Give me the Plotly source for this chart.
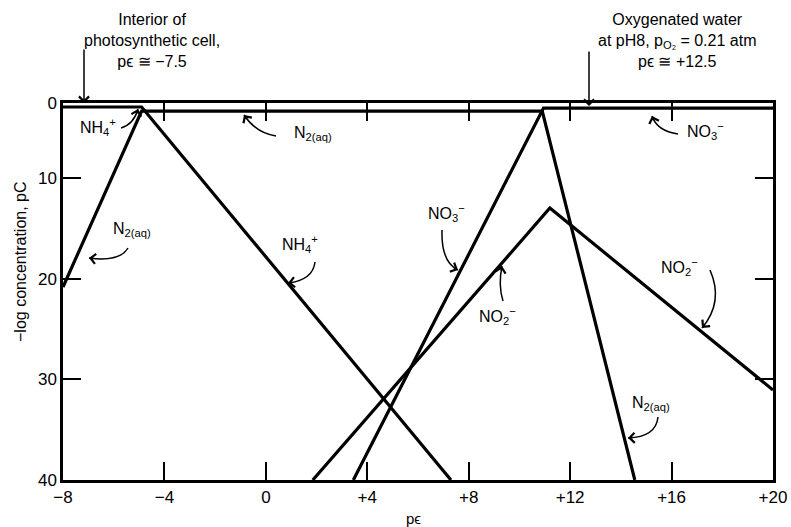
import plotly.graph_objects as go

# ---------------- data ----------------
pe_ticks = [-8, -4, 0, 4, 8, 12, 16, 20]
pe_tick_labels = ["−8", "−4", "0", "+4", "+8", "+12", "+16", "+20"]
pc_ticks = [2.5, 10, 20, 30, 40]
pc_tick_labels = ["0", "10", "20", "30", "40"]

nh4_pe = [-8, -4.9, 7.3]
nh4_pc = [2.9, 2.9, 40]

n2_pe = [-8, -4.9, 10.9, 14.55]
n2_pc = [20.8, 3.3, 3.3, 40]

no3_pe = [3.45, 10.95, 20]
no3_pc = [40, 3.0, 3.0]

no2_pe = [1.85, 11.2, 20]
no2_pc = [40, 12.95, 31.05]

# ---------------- layout geometry ----------------
W, H = 791, 527
L, R, T, B = 63, 773, 103, 480   # plot-area pixel box
FONT = "Liberation Sans, Arial, sans-serif"


def pxp(x):
    return (x - L) / (R - L)


def pyp(y):
    return (B - y) / (B - T)


fig = go.Figure()
for xs, ys, nm in [(nh4_pe, nh4_pc, "NH4+"), (n2_pe, n2_pc, "N2(aq)"),
                   (no3_pe, no3_pc, "NO3-"), (no2_pe, no2_pc, "NO2-")]:
    fig.add_trace(go.Scatter(x=xs, y=ys, mode="lines", name=nm,
                             line=dict(color="black", width=3.2),
                             showlegend=False, cliponaxis=True))

shapes = []
annotations = []

# species labels (pixel centre positions)
labels = [
    ("NH<sub>4</sub><sup>+</sup>", 98, 127),
    ("N<sub>2(aq)</sub>", 313, 133),
    ("NO<sub>3</sub><sup>−</sup>", 705, 131),
    ("N<sub>2(aq)</sub>", 132, 229),
    ("NH<sub>4</sub><sup>+</sup>", 300, 244),
    ("NO<sub>3</sub><sup>−</sup>", 447, 213),
    ("NO<sub>2</sub><sup>−</sup>", 497, 316),
    ("NO<sub>2</sub><sup>−</sup>", 679, 267),
    ("N<sub>2(aq)</sub>", 651, 403),
]
for txt, x, y in labels:
    annotations.append(dict(text=txt, xref="paper", yref="paper",
                            x=pxp(x), y=pyp(y), showarrow=False,
                            xanchor="center", yanchor="middle",
                            font=dict(family=FONT, size=16, color="black")))

# curved pointer arrows: start, control, end (pixels)
curves = [
    ((121, 128), (134, 124), (138, 109)),
    ((276, 136), (256, 133), (244, 115)),
    ((678, 134), (657, 131), (652, 116)),
    ((128, 248), (120, 262), (89, 258)),
    ((315, 262), (313, 280), (288, 283)),
    ((442, 230), (441, 262), (458, 270)),
    ((503, 301), (498, 285), (502, 266)),
    ((710, 270), (724, 302), (702, 328)),
    ((658, 417), (656, 437), (628, 438)),
]
for (sx, sy), (cx, cy), (ex, ey) in curves:
    shapes.append(dict(type="path", xref="paper", yref="paper",
                       path=f"M {pxp(sx)},{pyp(sy)} Q {pxp(cx)},{pyp(cy)} {pxp(ex)},{pyp(ey)}",
                       line=dict(color="black", width=1.5)))
    dx, dy = ex - cx, ey - cy
    n = (dx * dx + dy * dy) ** 0.5
    annotations.append(dict(text="", xref="paper", yref="paper",
                            x=pxp(ex), y=pyp(ey), showarrow=True,
                            ax=-dx / n * 6, ay=-dy / n * 6,
                            arrowhead=4, arrowsize=1.3, arrowwidth=1.5,
                            arrowcolor="black", standoff=0))

# top vertical arrows
for x, y0, y1 in [(84, 48, 103), (589, 50, 106)]:
    annotations.append(dict(text="", xref="paper", yref="paper",
                            x=pxp(x), y=pyp(y1), showarrow=True,
                            ax=0, ay=y0 - y1, arrowhead=4, arrowsize=1.3,
                            arrowwidth=1.5, arrowcolor="black", standoff=0))

# top captions
annotations.append(dict(text="Interior of<br>photosynthetic cell,<br>pϵ ≅ −7.5",
                        xref="paper", yref="paper", x=pxp(152), y=pyp(41),
                        showarrow=False, xanchor="center", yanchor="middle",
                        align="center",
                        font=dict(family=FONT, size=16, color="black")))
annotations.append(dict(text="Oxygenated water<br>at pH8, p<sub>O₂</sub> = 0.21 atm<br>pϵ ≅ +12.5",
                        xref="paper", yref="paper", x=pxp(677), y=pyp(41),
                        showarrow=False, xanchor="center", yanchor="middle",
                        align="center",
                        font=dict(family=FONT, size=16, color="black")))

# axis titles
annotations.append(dict(text="−log concentration, pC", xref="paper", yref="paper",
                        x=pxp(20), y=pyp(262), showarrow=False, textangle=-90,
                        xanchor="center", yanchor="middle",
                        font=dict(family=FONT, size=16, color="black")))
annotations.append(dict(text="pϵ", xref="paper", yref="paper",
                        x=pxp(413), y=pyp(518), showarrow=False,
                        xanchor="center", yanchor="middle",
                        font=dict(family=FONT, size=15, color="black")))

fig.update_layout(
    width=W, height=H,
    margin=dict(l=L, r=W - R, t=T, b=H - B, pad=0, autoexpand=False),
    paper_bgcolor="white", plot_bgcolor="white",
    shapes=shapes, annotations=annotations,
    font=dict(family=FONT, size=16, color="black"),
)
fig.update_xaxes(range=[-8, 20], tickvals=pe_ticks, ticktext=pe_tick_labels,
                 automargin=False,
                 showgrid=False, zeroline=False, showline=True, linewidth=2.5,
                 linecolor="black", mirror="ticks", ticks="inside", ticklen=18,
                 tickwidth=1.5, tickcolor="black",
                 tickfont=dict(family=FONT, size=17, color="black"))
fig.update_yaxes(range=[40, 2.5], tickvals=pc_ticks, ticktext=pc_tick_labels,
                 automargin=False,
                 showgrid=False, zeroline=False, showline=True, linewidth=2.5,
                 linecolor="black", mirror="ticks", ticks="inside", ticklen=18,
                 tickwidth=1.5, tickcolor="black",
                 tickfont=dict(family=FONT, size=17, color="black"))

fig.write_html("out.html", config={"displayModeBar": False},
               post_script="document.body.style.margin='0';document.body.style.overflow='hidden';")
